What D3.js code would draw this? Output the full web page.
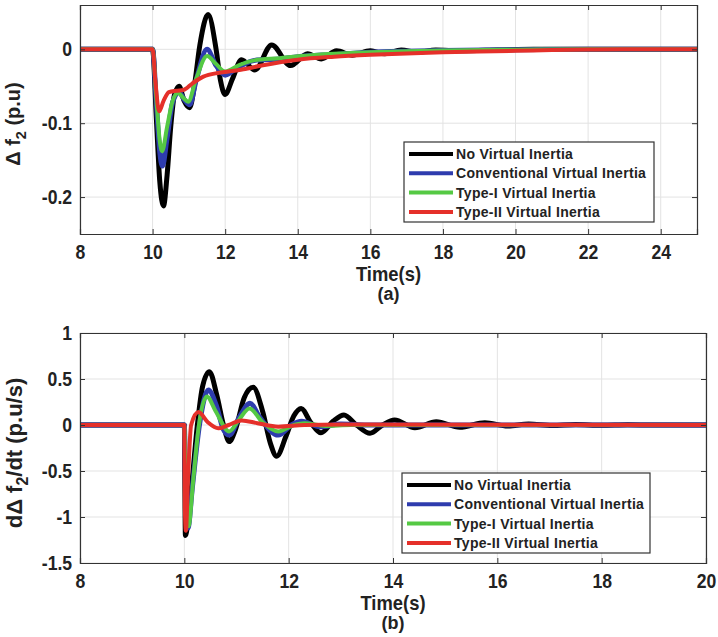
<!DOCTYPE html>
<html>
<head>
<meta charset="utf-8">
<script src="https://cdn.jsdelivr.net/npm/d3@7"></script>
<style>
  body { margin: 0; background: #fff; }
  svg text { font-family: "Liberation Sans", Arial, sans-serif; font-weight: bold; fill: #222; }
</style>
</head>
<body>
<svg id="chart" width="718" height="637"></svg>
<script>
// series names & colours
const seriesNames = ['No Virtual Inertia', 'Conventional Virtual Inertia', 'Type-I Virtual Inertia', 'Type-II Virtual Inertia'];
const seriesColors = ['#000000', '#2e3cae', '#55c944', '#e5302a'];
const seriesWidths = [5, 5, 4, 4];

// panel (a): delta f2 [time, value]
const dfNone = [[8,0],[10,0],[10.1,-0.09],[10.2,-0.18],[10.3,-0.212],[10.4,-0.17],[10.5,-0.105],[10.6,-0.062],[10.73,-0.05],[10.87,-0.07],[11.02,-0.079],[11.15,-0.05],[11.3,0.005],[11.53,0.047],[11.75,0.0],[11.87,-0.042],[12.0,-0.061],[12.2,-0.04],[12.45,-0.014],[12.82,-0.028],[13.28,0.006],[13.8,-0.022],[14.27,-0.006],[14.65,-0.013],[15.07,-0.002],[15.5,-0.008],[16.0,-0.002],[16.4,-0.006],[16.85,-0.001],[17.3,-0.004],[17.8,-0.001],[18.5,-0.002],[19.5,-0.001],[20.5,0],[25,0]];
const dfConv = [[8,0],[10,0],[10.1,-0.07],[10.2,-0.14],[10.27,-0.158],[10.4,-0.12],[10.55,-0.072],[10.73,-0.058],[10.87,-0.068],[11.02,-0.075],[11.2,-0.042],[11.5,0.0],[11.75,-0.022],[12.0,-0.035],[12.3,-0.026],[12.8,-0.015],[13.5,-0.013],[14,-0.01],[15,-0.007],[16,-0.004],[17,-0.0025],[18,-0.0015],[20,-0.0005],[22,0],[25,0]];
const dfType1 = [[8,0],[10,0],[10.1,-0.065],[10.2,-0.125],[10.26,-0.138],[10.4,-0.105],[10.55,-0.07],[10.7,-0.059],[10.85,-0.066],[10.98,-0.071],[11.2,-0.04],[11.5,-0.009],[11.75,-0.02],[12.0,-0.03],[12.4,-0.021],[12.8,-0.015],[13.5,-0.012],[14,-0.0095],[15,-0.006],[16,-0.004],[17,-0.0025],[18,-0.0015],[20,-0.0005],[22,0],[25,0]];
const dfType2 = [[8,0],[10,0],[10.08,-0.045],[10.18,-0.084],[10.3,-0.07],[10.45,-0.058],[10.65,-0.056],[10.85,-0.055],[11.1,-0.046],[11.4,-0.037],[11.8,-0.032],[12.1,-0.03],[12.5,-0.027],[13,-0.022],[14,-0.014],[15,-0.010],[16,-0.0074],[17,-0.0055],[18,-0.004],[19,-0.003],[20,-0.002],[21,-0.001],[22,-0.0004],[23,0],[25,0]];

// panel (b): d(delta f2)/dt [time, value]
const rocNone = [[8,0],[10,0],[10.02,-1.2],[10.06,-1.1],[10.15,-0.6],[10.25,0.0],[10.35,0.42],[10.48,0.58],[10.62,0.33],[10.75,0.0],[10.86,-0.18],[10.98,-0.05],[11.15,0.3],[11.32,0.41],[11.5,0.15],[11.65,-0.2],[11.77,-0.34],[11.95,-0.12],[12.1,0.1],[12.24,0.18],[12.42,0.03],[12.62,-0.085],[12.85,0.04],[13.06,0.11],[13.3,0.0],[13.56,-0.09],[13.8,0.0],[14.03,0.055],[14.42,-0.03],[14.83,0.036],[15.28,-0.025],[15.76,0.025],[16.2,-0.012],[16.6,0.01],[17.05,-0.006],[17.5,0.005],[18,-0.003],[18.5,0.002],[19,0],[20,0]];
const rocConv = [[8,0],[10,0],[10.03,-0.9],[10.07,-1.12],[10.15,-0.7],[10.29,0.0],[10.46,0.38],[10.62,0.2],[10.75,-0.05],[10.86,-0.11],[11.05,0.08],[11.26,0.236],[11.45,0.08],[11.8,-0.11],[12.05,0.0],[12.25,0.04],[12.6,-0.02],[13,0.01],[13.5,0],[20,0]];
const rocType1 = [[8,0],[10,0],[10.03,-0.85],[10.08,-1.1],[10.17,-0.6],[10.28,0.0],[10.43,0.31],[10.6,0.15],[10.86,-0.07],[11.05,0.06],[11.25,0.18],[11.5,0.03],[11.8,-0.07],[12.1,0.0],[12.3,0.02],[12.7,-0.01],[13.2,0],[20,0]];
const rocType2 = [[8,0],[10,0],[10.01,-0.9],[10.03,-1.15],[10.07,-0.6],[10.13,0.0],[10.27,0.14],[10.45,0.03],[10.65,-0.036],[10.85,0.0],[11.1,0.05],[11.4,0.02],[11.8,-0.018],[12.3,0.0],[13,0.005],[20,0]];

// ticks
const xTicksA = [8, 10, 12, 14, 16, 18, 20, 22, 24];
const yTicksA = [-0.2, -0.1, 0];
const xTicksB = [8, 10, 12, 14, 16, 18, 20];
const yTicksB = [-1.5, -1, -0.5, 0, 0.5, 1];

const svg = d3.select('#chart');
const fmt = d => String(d);

function drawPanel(cfg) {
    const x = d3.scaleLinear().domain(cfg.xDomain).range([cfg.left, cfg.right]);
    const y = d3.scaleLinear().domain(cfg.yDomain).range([cfg.bottom, cfg.top]);
    const g = svg.append('g');

    // grid
    g.selectAll('.gx').data(cfg.xTicks).enter().append('line')
        .attr('x1', d => x(d)).attr('x2', d => x(d))
        .attr('y1', cfg.top).attr('y2', cfg.bottom)
        .attr('stroke', '#e3e3e3').attr('stroke-width', 1);
    g.selectAll('.gy').data(cfg.yTicks).enter().append('line')
        .attr('x1', cfg.left).attr('x2', cfg.right)
        .attr('y1', d => y(d)).attr('y2', d => y(d))
        .attr('stroke', '#e3e3e3').attr('stroke-width', 1);

    // curves
    const clipId = 'clip' + cfg.id;
    svg.append('clipPath').attr('id', clipId).append('rect')
        .attr('x', cfg.left).attr('y', cfg.top)
        .attr('width', cfg.right - cfg.left).attr('height', cfg.bottom - cfg.top);
    const line = d3.line().x(d => x(d[0])).y(d => y(d[1])).curve(d3.curveMonotoneX);
    const lines = g.append('g').attr('clip-path', `url(#${clipId})`);
    cfg.series.forEach((s, i) => {
        lines.append('path').datum(s)
            .attr('d', line)
            .attr('fill', 'none')
            .attr('stroke', seriesColors[i])
            .attr('stroke-width', seriesWidths[i])
            .attr('stroke-linejoin', 'round')
            .attr('stroke-linecap', 'round');
    });

    // axes (ticks inward, box)
    const axB = g.append('g').attr('transform', `translate(0,${cfg.bottom})`)
        .call(d3.axisBottom(x).tickValues(cfg.xTicks).tickSize(-5).tickFormat(fmt));
    const axT = g.append('g').attr('transform', `translate(0,${cfg.top})`)
        .call(d3.axisTop(x).tickValues(cfg.xTicks).tickSize(-5).tickFormat(''));
    const axL = g.append('g').attr('transform', `translate(${cfg.left},0)`)
        .call(d3.axisLeft(y).tickValues(cfg.yTicks).tickSize(-5).tickPadding(10).tickFormat(fmt));
    const axR = g.append('g').attr('transform', `translate(${cfg.right},0)`)
        .call(d3.axisRight(y).tickValues(cfg.yTicks).tickSize(-5).tickFormat(''));
    [axB, axT, axL, axR].forEach(a => {
        a.select('.domain').attr('stroke', '#333').attr('stroke-width', 1.2);
        a.selectAll('.tick line').attr('stroke', '#333');
        a.selectAll('.tick text').attr('font-size', 20).attr('font-family', null)
            .attr('fill', '#222').attr('transform', 'scale(0.88,1)');
    });
    axB.selectAll('.tick text').attr('y', 25).attr('dy', null);
    axL.selectAll('.tick text').attr('x', -9);

    // axis labels
    const mid = (cfg.left + cfg.right) / 2;
    g.append('text').attr('transform', `translate(${mid},${cfg.bottom + 47}) scale(0.92,1)`)
        .attr('text-anchor', 'middle').attr('font-size', 20).text('Time(s)');
    g.append('text').attr('x', mid).attr('y', cfg.bottom + 66)
        .attr('text-anchor', 'middle').attr('font-size', 18).text(cfg.caption);

    const yl = g.append('text')
        .attr('transform', `translate(${cfg.yLabelX},${cfg.yLabelY}) rotate(-90)`)
        .attr('text-anchor', 'middle').attr('font-size', cfg.yLabelSize);
    yl.append('tspan').text(cfg.yLabel[0]);
    yl.append('tspan').attr('font-size', cfg.yLabelSize * 0.72).attr('dy', 6).text('2');
    yl.append('tspan').attr('dy', -6).text(cfg.yLabel[1]);

    // legend
    const lg = g.append('g');
    lg.append('rect').attr('x', cfg.legend.x).attr('y', cfg.legend.y)
        .attr('width', cfg.legend.w).attr('height', 80)
        .attr('fill', '#fff').attr('stroke', '#333').attr('stroke-width', 1.2);
    seriesNames.forEach((name, i) => {
        const yy = cfg.legend.y + 12 + i * 19.3;
        lg.append('line').attr('x1', cfg.legend.x + 5).attr('x2', cfg.legend.x + 49)
            .attr('y1', yy).attr('y2', yy)
            .attr('stroke', seriesColors[i]).attr('stroke-width', 4);
        lg.append('text').attr('x', cfg.legend.x + 52).attr('y', yy + 5)
            .attr('font-size', 14).attr('letter-spacing', 0.3).text(name);
    });
}

drawPanel({
    id: 'a', xDomain: [8, 25], yDomain: [-0.25, 0.06],
    left: 80, right: 697, top: 5, bottom: 234,
    xTicks: xTicksA, yTicks: yTicksA,
    series: [dfNone, dfConv, dfType1, dfType2],
    caption: '(a)', yLabel: ['\u0394 f', ' (p.u)'], yLabelX: 20, yLabelY: 124, yLabelSize: 20,
    legend: { x: 404, y: 142, w: 250 }
});

drawPanel({
    id: 'b', xDomain: [8, 20], yDomain: [-1.5, 1],
    left: 80, right: 706, top: 333, bottom: 563,
    xTicks: xTicksB, yTicks: yTicksB,
    series: [rocNone, rocConv, rocType1, rocType2],
    caption: '(b)', yLabel: ['d\u0394 f', '/dt (p.u/s)'], yLabelX: 22, yLabelY: 453, yLabelSize: 22,
    legend: { x: 402, y: 473, w: 248 }
});
</script>
</body>
</html>
